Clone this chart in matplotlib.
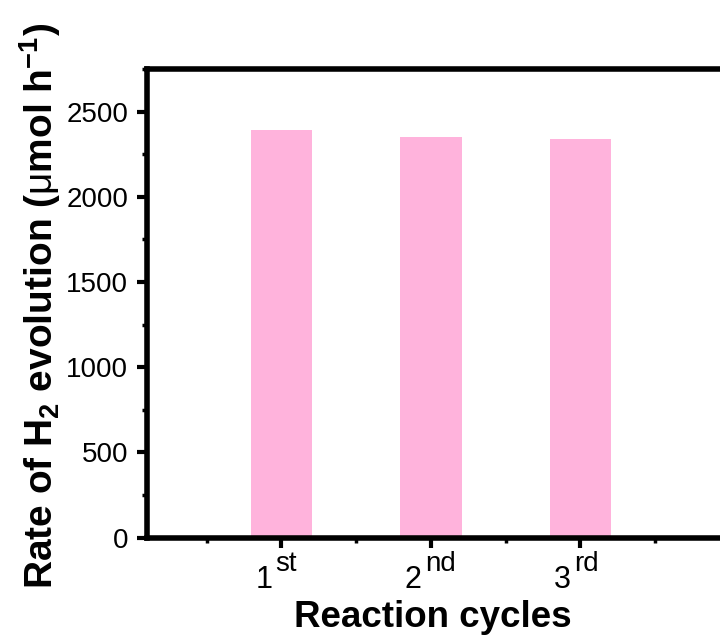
import matplotlib
matplotlib.use('Agg')
import matplotlib.pyplot as plt
from matplotlib.ticker import MultipleLocator

plt.rcParams['font.family'] = ['Liberation Sans', 'DejaVu Sans']
plt.rcParams['mathtext.fontset'] = 'custom'
plt.rcParams['mathtext.rm'] = 'Liberation Sans'
plt.rcParams['mathtext.bf'] = 'Liberation Sans:bold'
plt.rcParams['mathtext.it'] = 'Liberation Sans:italic'

cycles = [1, 2, 3]
cycle_nums = ['1', '2', '3']
cycle_sups = ['st', 'nd', 'rd']
rates = [2390, 2353, 2341]

fig = plt.figure(figsize=(7.2, 6.38), dpi=100)
# axes runs past the right edge, like the cropped original
ax = fig.add_axes([0.2042, 0.1575, 0.83, 0.7343])

ax.bar(cycles, rates, width=0.41, color='#ffb3dc')

ax.set_xlim(0.1, 4.1)
ax.set_ylim(0, 2750)
ax.set_xticks(cycles)
ax.set_xticklabels([])
ax.set_xticks([0.5, 1.5, 2.5, 3.5], minor=True)
ax.yaxis.set_major_locator(MultipleLocator(500))
ax.yaxis.set_minor_locator(MultipleLocator(250))

for s in ax.spines.values():
    s.set_linewidth(4)
ax.spines['right'].set_visible(False)

ax.tick_params(which='major', direction='out', length=7, width=3, labelsize=20, pad=6.5)
ax.tick_params(which='minor', direction='out', length=3.5, width=2.5)

# tick labels with full-size superscripts (1st, 2nd, 3rd)
for c, n, sp in zip(cycles, cycle_nums, cycle_sups):
    ax.annotate(n, xy=(c, 0), xycoords=('data', 'axes fraction'),
                xytext=(-6.5, -36.5), textcoords='offset points',
                ha='right', va='baseline', fontsize=22)
    ax.annotate(sp, xy=(c, 0), xycoords=('data', 'axes fraction'),
                xytext=(-4.3, -23.8), textcoords='offset points',
                ha='left', va='baseline', fontsize=20)

ax.set_xlabel('Reaction cycles', fontsize=26.5, fontweight='bold')
ax.xaxis.label.set_va('baseline')
ax.xaxis.set_label_coords(0.479, -0.19)

ax.set_ylabel(r'Rate of H$_\mathbf{2}$ evolution ($\mathrm{\mu}$mol h$^\mathbf{-1}$)',
              fontsize=28, fontweight='bold')
ax.yaxis.label.set_va('baseline')
ax.yaxis.set_label_coords(-0.158, 0.494)

fig.savefig('out.png', dpi=100)
